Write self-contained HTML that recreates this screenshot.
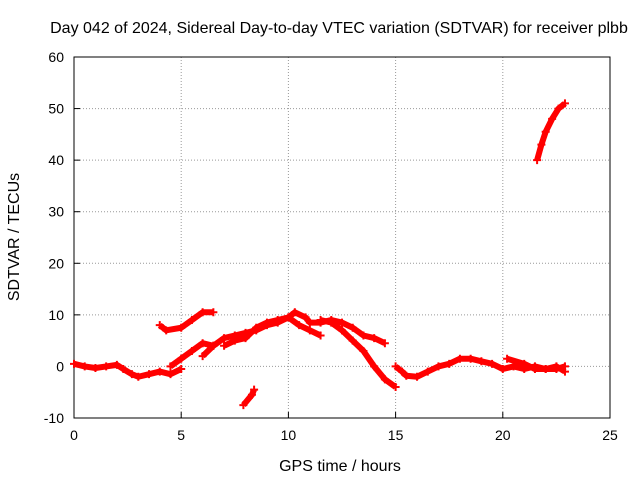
<!DOCTYPE html>
<html><head><meta charset="utf-8"><style>
body{margin:0;background:#fff}
svg{display:block;font-family:"Liberation Sans",sans-serif}
</style></head><body>
<svg id="chart" width="640" height="480">
<text x="339" y="33" font-size="16" text-anchor="middle">Day 042 of 2024, Sidereal Day-to-day VTEC variation (SDTVAR) for receiver plbb</text>
<text x="340" y="471" font-size="16" text-anchor="middle">GPS time / hours</text>
<text x="19" y="237" font-size="16" text-anchor="middle" transform="rotate(-90 19 237)">SDTVAR / TECUs</text>
<g id="grid"></g>
<g id="axes"></g>
<g id="series"></g>
</svg>
<script>
const xTicks=[0,5,10,15,20,25];
const yTicks=[-10,0,10,20,30,40,50,60];
const track1=[[0,0.5],[0.5,0],[1,-0.3],[1.5,0],[2,0.3],[2.3,-0.5],[2.7,-1.5],[3,-2],[3.5,-1.5],[4,-1],[4.5,-1.5],[5,-0.5]];
const track2=[[4.5,0],[5,1.5],[5.5,3],[6,4.5],[6.5,4]];
const track3=[[4,8],[4.3,7],[5,7.5],[5.5,9],[6,10.5],[6.5,10.5]];
const track4=[[6,2],[6.5,4],[7,5.5],[7.5,6],[8,6.5],[8.5,7],[9,8],[9.5,8.5],[10,9.5],[10.3,10.5],[10.8,9.5],[11,8.5],[11.5,8.5],[12,9],[12.5,8.5],[13,7.5],[13.5,6],[14,5.5],[14.5,4.5]];
const track5=[[7,4],[7.5,5],[8,5.5],[8.5,7.5],[9,8.5],[9.5,9],[10,9.5],[10.5,8],[11,7],[11.5,6]];
const track6=[[11.5,9],[12,8.5],[12.5,7],[13,5],[13.5,3],[14,0],[14.5,-2.5],[15,-4]];
const track7=[[7.9,-7.5],[8.3,-5.5],[8.4,-4.5]];
const track8=[[15,0],[15.3,-1],[15.5,-1.8],[16,-2],[16.5,-1],[17,0],[17.5,0.5],[18,1.5],[18.5,1.5],[19,1],[19.5,0.5],[20,-0.5],[20.5,0],[21,-0.5],[21.5,0],[22,-0.5],[22.5,0],[22.9,-1]];
const track9=[[20.2,1.5],[21,0.5],[21.5,-0.5],[22,-0.5],[22.5,-0.5],[22.9,0]];
const track10=[[21.6,40],[21.8,43],[22,45.5],[22.3,48],[22.6,50],[22.9,51]];
const tracks=[track1,track2,track3,track4,track5,track6,track7,track8,track9,track10];
const L=74,R=610,T=57,B=418;
const xs=v=>L+(v-0)/25*(R-L);
const ys=v=>B-(v+10)/70*(B-T);
const NS="http://www.w3.org/2000/svg";
function mk(t,a,p){const e=document.createElementNS(NS,t);for(const k in a)e.setAttribute(k,a[k]);p.appendChild(e);return e;}
const grid=document.getElementById('grid'),axes=document.getElementById('axes'),ser=document.getElementById('series');
xTicks.forEach(t=>{const x=xs(t);
 if(t>0&&t<25){const g=mk('line',{x1:x,x2:x,y1:T,y2:B,stroke:'#999','stroke-dasharray':'1,2'},grid);}
 const tk=mk('line',{x1:x,x2:x,y1:B,y2:B-6,stroke:'#000'},axes);
 const tx=mk('text',{x:x,y:B+22,'font-size':14,'text-anchor':'middle'},axes);tx.textContent=t;});
yTicks.forEach(t=>{const y=ys(t);
 if(t>-10&&t<60){const g=mk('line',{x1:L,x2:R,y1:y,y2:y,stroke:'#999','stroke-dasharray':'1,2'},grid);}
 const tk=mk('line',{x1:L,x2:L+6,y1:y,y2:y,stroke:'#000'},axes);
 const tx=mk('text',{x:L-10,y:y+5,'font-size':14,'text-anchor':'end'},axes);tx.textContent=t;});
const fr=mk('rect',{x:L,y:T,width:R-L,height:B-T,fill:'none',stroke:'#000'},axes);

tracks.forEach(tr=>{
 const pl=mk('polyline',{points:tr.map(p=>xs(p[0])+','+ys(p[1])).join(' '),fill:'none',stroke:'#f00','stroke-width':6,'stroke-linejoin':'round'},ser);
 
 tr.forEach(p=>{const x=xs(p[0]),y=ys(p[1]);
  const m=mk('path',{d:`M${x-4},${y}H${x+4}M${x},${y-4}V${y+4}`,stroke:'#f00','stroke-width':2},ser);
  });
});
</script>
</body></html>
